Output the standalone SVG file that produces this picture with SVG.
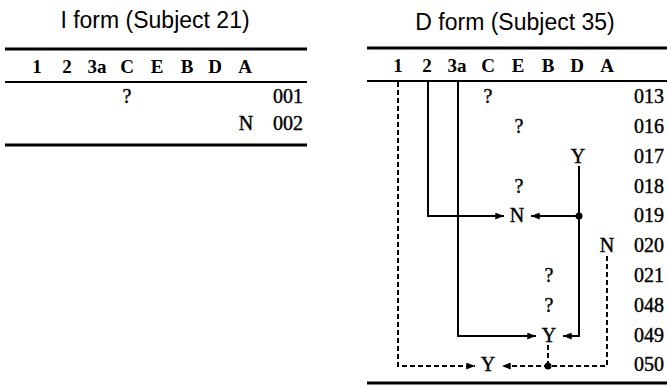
<svg xmlns="http://www.w3.org/2000/svg" width="667" height="385" viewBox="0 0 667 385">
<style>
.title{font-family:"Liberation Sans",Arial,sans-serif;font-size:23px;fill:#000;text-anchor:middle}
.hd{font-family:"Liberation Serif","Times New Roman",serif;font-size:19px;font-weight:bold;fill:#000;text-anchor:middle}
.cell{font-family:"Liberation Serif","Times New Roman",serif;font-size:20px;fill:#000;stroke:#000;stroke-width:0.4;text-anchor:middle}
.num{font-family:"Liberation Serif","Times New Roman",serif;font-size:20px;fill:#000;stroke:#000;stroke-width:0.4;text-anchor:end}
.rule{stroke:#000;fill:none}
.solid{stroke:#000;stroke-width:2;fill:none}
.dash{stroke:#000;stroke-width:2;fill:none;stroke-dasharray:5 3}
</style>
<defs>
<marker id="ah" viewBox="0 0 10 8" refX="10" refY="4" markerWidth="9" markerHeight="7" markerUnits="userSpaceOnUse" orient="auto">
<path d="M0,0 L10,4 L0,8 Z" fill="#000"/>
</marker>
</defs>

<g id="table-I">
<text class="title" x="155" y="28">I form (Subject 21)</text>
<line class="rule" x1="5" y1="49" x2="307" y2="49" stroke-width="3"/>
<text class="hd" x="37" y="73">1</text>
<text class="hd" x="67" y="73">2</text>
<text class="hd" x="97" y="73">3a</text>
<text class="hd" x="127" y="73">C</text>
<text class="hd" x="157" y="73">E</text>
<text class="hd" x="187" y="73">B</text>
<text class="hd" x="215" y="73">D</text>
<text class="hd" x="245" y="73">A</text>
<line class="rule" x1="5" y1="82" x2="307" y2="82" stroke-width="2"/>
<text class="cell" x="127" y="103">?</text>
<text class="num" x="303" y="103">001</text>
<text class="cell" x="246" y="130">N</text>
<text class="num" x="303" y="130">002</text>
<line class="rule" x1="5" y1="145" x2="307" y2="145" stroke-width="3"/>
</g>

<g id="table-D">
<text class="title" x="515" y="30">D form (Subject 35)</text>
<line class="rule" x1="367" y1="48" x2="667" y2="48" stroke-width="3"/>
<text class="hd" x="398" y="72">1</text>
<text class="hd" x="427" y="72">2</text>
<text class="hd" x="457" y="72">3a</text>
<text class="hd" x="488" y="72">C</text>
<text class="hd" x="518" y="72">E</text>
<text class="hd" x="548" y="72">B</text>
<text class="hd" x="577" y="72">D</text>
<text class="hd" x="607" y="72">A</text>
<line class="rule" x1="367" y1="81" x2="667" y2="81" stroke-width="2"/>
<line class="rule" x1="367" y1="383" x2="667" y2="383" stroke-width="3"/>
</g>

<g id="rows">
<text class="num" x="664" y="103">013</text>
<text class="num" x="664" y="133">016</text>
<text class="num" x="664" y="162.5">017</text>
<text class="num" x="664" y="192.5">018</text>
<text class="num" x="664" y="222">019</text>
<text class="num" x="664" y="252">020</text>
<text class="num" x="664" y="282">021</text>
<text class="num" x="664" y="311.5">048</text>
<text class="num" x="664" y="341.5">049</text>
<text class="num" x="664" y="371">050</text>
</g>

<g id="n013"><text class="cell" x="488" y="103">?</text></g>
<g id="n016"><text class="cell" x="519" y="133">?</text></g>
<g id="n017"><text class="cell" x="578" y="162.5">Y</text></g>
<g id="n018"><text class="cell" x="519" y="192.5">?</text></g>
<g id="n019"><text class="cell" x="517" y="222">N</text></g>
<g id="n020"><text class="cell" x="607" y="252">N</text></g>
<g id="n021"><text class="cell" x="549" y="282">?</text></g>
<g id="n048"><text class="cell" x="549" y="311.5">?</text></g>
<g id="n049"><text class="cell" x="549" y="341.5">Y</text></g>
<g id="n050"><text class="cell" x="488" y="371">Y</text></g>

<g id="connectors">
<path class="solid" d="M428,82 V216 H504" marker-end="url(#ah)"/>
<path class="solid" d="M458,82 V336 H536" marker-end="url(#ah)"/>
<path class="solid" d="M579,166 V336 H563" marker-end="url(#ah)"/>
<path class="solid" d="M579,216 H531" marker-end="url(#ah)"/>
<circle cx="579" cy="216" r="3.5" fill="#000"/>
<path class="dash" d="M398,82 V366 H475" marker-end="url(#ah)"/>
<path class="dash" d="M607,256 V366 H502" marker-end="url(#ah)"/>
<path class="dash" d="M548,345 V366" stroke-dasharray="3 3"/>
<circle cx="548" cy="366" r="3.5" fill="#000"/>
</g>
</svg>
